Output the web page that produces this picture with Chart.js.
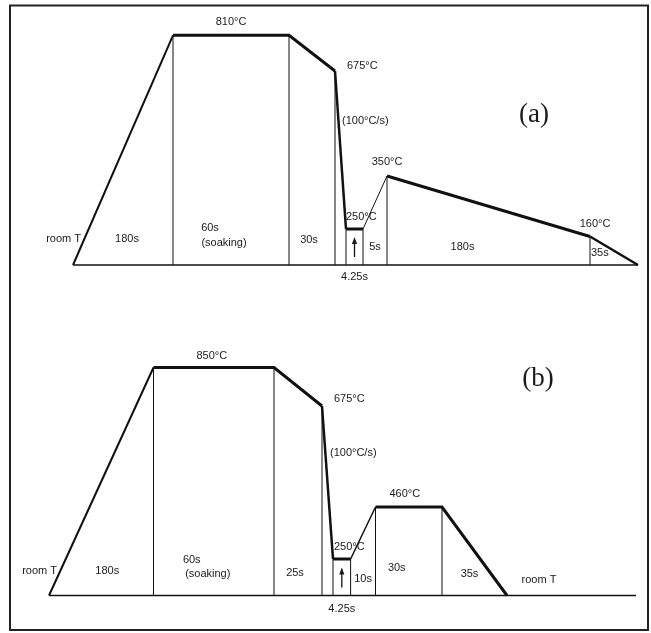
<!DOCTYPE html>
<html>
<head>
<meta charset="utf-8">
<title>Heat treatment schedules</title>
<script src="https://cdn.jsdelivr.net/npm/chart.js@4.4.1/dist/chart.umd.min.js"></script>
<style>
  html, body { margin: 0; padding: 0; background: #fff; }
  #chart { display: block; }
</style>
</head>
<body>
<canvas id="chart" width="651" height="633"></canvas>
<script>
// Schedule (a): austenitise at 810 °C, quench to 250 °C, reheat to 350 °C, slow cool
const durationsA = [180, 60, 30, 4.25, 4.25, 5, 180, 35];       // s, one per stage
const tempsA     = [25, 810, 810, 675, 250, 250, 350, 160, 25];  // °C at each stage boundary

// Schedule (b): austenitise at 850 °C, quench to 250 °C, hold at 460 °C
const durationsB = [180, 60, 25, 4.25, 4.25, 10, 30, 35];
const tempsB     = [25, 850, 850, 675, 250, 250, 460, 460, 25];

const roomLabel = 'room T';
const soakNote  = '(soaking)';

const cumulative = d => d.reduce((acc, v) => { acc.push(acc[acc.length - 1] + v); return acc; }, [0]);
const timesA = cumulative(durationsA);
const timesB = cumulative(durationsB);
const tailEndB = 400; // s, the room-temperature line keeps running after schedule (b)

// ---- page geometry: the schematic is not to scale, so each axis is pinned at its stage boundaries ----
const W = 651, H = 633;
const axisAnchors = {
  xa: { values: timesA, px: [73, 173, 289, 335, 346, 363, 387, 590, 638] },
  ya: { values: [25, 160, 250, 350, 675, 810], px: [265, 236.5, 229, 176, 71, 35.3] },
  xb: { values: [...timesB, tailEndB], px: [49, 153.5, 274, 322, 333, 350.6, 375.5, 442, 507, 636] },
  yb: { values: [25, 250, 460, 675, 850], px: [595.5, 559, 507, 406, 367.5] }
};

// A linear scale whose value->pixel map is piecewise linear between anchor points
class AnchoredScale extends Chart.LinearScale {
  static id = 'anchored';
  static defaults = {};
  _toPx(v) {
    const a = axisAnchors[this.id];
    let i = 1;
    while (i < a.values.length - 1 && v > a.values[i]) i++;
    const v0 = a.values[i - 1], v1 = a.values[i];
    return a.px[i - 1] + (v - v0) / (v1 - v0) * (a.px[i] - a.px[i - 1]);
  }
  getPixelForValue(v) {
    const p = this._toPx(v);
    const dec = this.isHorizontal() ? p / W : 1 - p / H;
    return this.getPixelForDecimal(dec);
  }
  getValueForPixel(pixel) {
    const a = axisAnchors[this.id];
    const dec = this.getDecimalForPixel(pixel);
    const p = this.isHorizontal() ? dec * W : (1 - dec) * H;
    const dir = Math.sign(a.px[a.px.length - 1] - a.px[0]);
    let i = 1;
    while (i < a.px.length - 1 && (p - a.px[i]) * dir > 0) i++;
    const p0 = a.px[i - 1], p1 = a.px[i];
    return a.values[i - 1] + (p - p0) / (p1 - p0) * (a.values[i] - a.values[i - 1]);
  }
}
Chart.register(AnchoredScale);

const INK = '#111';
const widthsA = [2, 3, 3, 2.5, 3, 1, 3, 2.5];
const widthsB = [2, 3, 3, 2.5, 3, 1.5, 3, 3];

function panelDatasets(times, temps, widths, axisEnd, xId, yId) {
  const profile = times.map((t, i) => ({ x: t, y: temps[i] }));
  const drops = [];
  for (let i = 1; i < times.length - 1; i++) {
    drops.push({ x: times[i], y: temps[0] }, { x: times[i], y: temps[i] }, { x: times[i], y: null });
  }
  const common = { xAxisID: xId, yAxisID: yId, showLine: true, pointRadius: 0, borderColor: INK,
                   clip: false, spanGaps: false, borderJoinStyle: 'miter', borderCapStyle: 'butt' };
  return [
    { ...common, data: profile, borderWidth: 3,
      segment: { borderWidth: c => widths[c.p0DataIndex] } },
    { ...common, data: drops, borderWidth: 1 },
    { ...common, data: [{ x: times[0], y: temps[0] }, { x: axisEnd, y: temps[0] }], borderWidth: 1.5 }
  ];
}

const fmtTemp = t => `${t}°C`;
const fmtDur = d => `${d}s`;

function panelTexts(key, X, Y, base, mid) {
  if (key === 'a') {
    const t = tempsA, d = durationsA;
    const rate = Math.round((t[3] - t[4]) / d[3]);
    return [
      [fmtTemp(t[1]), mid(1), Y(1) - 13, 'center'],
      [fmtTemp(t[3]), X(3) + 12, Y(3) - 5, 'left'],
      [`(${rate}°C/s)`, X(3) + 7, Y(3) + 50, 'left'],
      [fmtTemp(t[4]), X(4), Y(4) - 12, 'left'],
      [fmtTemp(t[6]), X(6), Y(6) - 14, 'center'],
      [fmtTemp(t[7]), X(7) + 5, Y(7) - 13, 'center'],
      [roomLabel, X(0) + 8, base - 26, 'right'],
      [fmtDur(d[0]), mid(0) + 4, base - 26, 'center'],
      [fmtDur(d[1]), mid(1) - 21, base - 37, 'center'],
      [soakNote, mid(1) - 7, base - 22, 'center'],
      [fmtDur(d[2]), mid(2) - 3, base - 25, 'center'],
      [fmtDur(d[4]), mid(4), base + 12, 'center'],
      [fmtDur(d[5]), mid(5), base - 18, 'center'],
      [fmtDur(d[6]), mid(6) - 26, base - 18, 'center'],
      [fmtDur(d[7]), X(7) + 1, base - 12, 'left']
    ];
  }
  const t = tempsB, d = durationsB;
  const rate = Math.round((t[3] - t[4]) / d[3]);
  return [
    [fmtTemp(t[1]), mid(1) - 2, Y(1) - 12, 'center'],
    [fmtTemp(t[3]), X(3) + 12, Y(3) - 7, 'left'],
    [`(${rate}°C/s)`, X(3) + 8, Y(3) + 47, 'left'],
    [fmtTemp(t[4]), X(4) + 1, Y(4) - 12, 'left'],
    [fmtTemp(t[6]), mid(6) - 4, Y(6) - 13, 'center'],
    [roomLabel, X(0) + 8, base - 25, 'right'],
    [fmtDur(d[0]), mid(0) + 6, base - 25, 'center'],
    [fmtDur(d[1]), mid(1) - 22, base - 36, 'center'],
    [soakNote, mid(1) - 6, base - 22, 'center'],
    [fmtDur(d[2]), mid(2) - 3, base - 23, 'center'],
    [fmtDur(d[4]), mid(4), base + 13, 'center'],
    [fmtDur(d[5]), mid(5), base - 17, 'center'],
    [fmtDur(d[6]), mid(6) - 12, base - 28, 'center'],
    [fmtDur(d[7]), mid(7) - 5, base - 22, 'center'],
    [roomLabel, X(8) + 32, base - 16, 'center']
  ];
}

const panels = [
  { key: 'a', times: timesA, temps: tempsA, xId: 'xa', yId: 'ya', letter: '(a)', letterAt: [534, 115] },
  { key: 'b', times: timesB, temps: tempsB, xId: 'xb', yId: 'yb', letter: '(b)', letterAt: [538, 379] }
];

const annotate = {
  id: 'annotate',
  afterDraw(chart) {
    const ctx = chart.ctx;
    ctx.save();
    // outer frame
    ctx.strokeStyle = '#222';
    ctx.lineWidth = 2;
    ctx.strokeRect(10, 5.5, 638, 624.5);

    panels.forEach(p => {
      const xs = chart.scales[p.xId], ys = chart.scales[p.yId];
      const X = i => xs.getPixelForValue(p.times[i]);
      const Y = i => ys.getPixelForValue(p.temps[i]);
      const base = ys.getPixelForValue(p.temps[0]);
      const mid = i => (X(i) + X(i + 1)) / 2;

      ctx.fillStyle = '#1a1a1a';
      ctx.font = '11px "Liberation Sans", Arial, sans-serif';
      ctx.textBaseline = 'middle';
      panelTexts(p.key, X, Y, base, mid).forEach(([s, x, y, align]) => {
        ctx.textAlign = align;
        ctx.fillText(s, x, y);
      });

      // arrow marking the quench stop
      const ax = mid(4);
      ctx.strokeStyle = INK;
      ctx.lineWidth = 1.3;
      ctx.beginPath();
      ctx.moveTo(ax, base - 8);
      ctx.lineTo(ax, base - 22);
      ctx.stroke();
      ctx.beginPath();
      ctx.moveTo(ax, base - 28);
      ctx.lineTo(ax - 2.6, base - 21);
      ctx.lineTo(ax + 2.6, base - 21);
      ctx.closePath();
      ctx.fill();

      ctx.font = '27px "Liberation Serif", "Times New Roman", serif';
      ctx.textAlign = 'center';
      ctx.fillText(p.letter, p.letterAt[0], p.letterAt[1]);
    });
    ctx.restore();
  }
};

const hidden = (axis, min, max) => ({ type: 'anchored', axis, display: false, min, max });

new Chart(document.getElementById('chart'), {
  type: 'scatter',
  data: {
    datasets: [
      ...panelDatasets(timesA, tempsA, widthsA, timesA[timesA.length - 1], 'xa', 'ya'),
      ...panelDatasets(timesB, tempsB, widthsB, tailEndB, 'xb', 'yb')
    ]
  },
  options: {
    responsive: false,
    animation: false,
    devicePixelRatio: 1,
    layout: { padding: 0 },
    plugins: { legend: { display: false }, tooltip: { enabled: false } },
    scales: {
      x: { display: false },
      y: { display: false },
      xa: hidden('x', 0, timesA[timesA.length - 1]),
      ya: hidden('y', 25, 810),
      xb: hidden('x', 0, tailEndB),
      yb: hidden('y', 25, 850)
    }
  },
  plugins: [annotate]
});
</script>
</body>
</html>
